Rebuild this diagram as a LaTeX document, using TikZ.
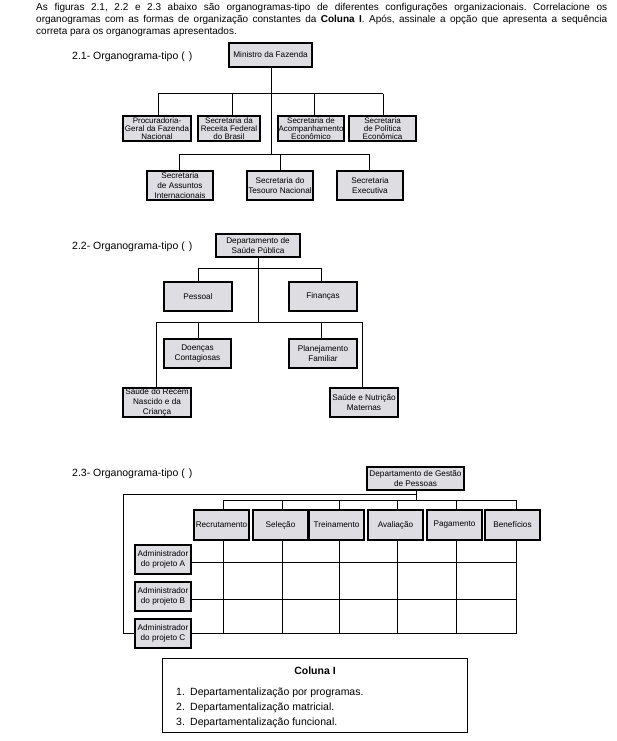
\documentclass[tikz,border=0pt]{standalone}
\usepackage{fontspec}
\setmainfont{Liberation Sans}
\definecolor{boxfill}{RGB}{221,221,226}
\frenchspacing
\begin{document}
\begin{tikzpicture}[x=1pt,y=-1pt,
  box/.style={draw, line width=1.2pt, fill=boxfill, inner sep=0pt, align=center,
    font=\fontsize{8.2}{9.7}\selectfont},
  tight/.style={font=\fontsize{8}{7.8}\selectfont},
  conn/.style={line width=1pt},
  lbl/.style={font=\fontsize{10.5}{12}\selectfont, inner sep=0pt},
  hdr/.style={font=\fontsize{10}{12}\selectfont, inner sep=0pt}]
\useasboundingbox[fill=white] (0,0) rectangle (617,741);

% header
\node[hdr, anchor=north west, text width=571pt, align=justify] (head) at (36,3)
 {As figuras 2.1, 2.2 e 2.3 abaixo são organogramas-tipo de diferentes configurações organizacionais. Correlacione os\linebreak
 organogramas com as formas de organização constantes da \textbf{Coluna I}. Após, assinale a opção que apresenta a sequência\linebreak
 correta para os organogramas apresentados.};

% ---------- 2.1 ----------
\node[lbl, anchor=west] (l1) at (72,57) {2.1- Organograma-tipo (\hspace{4pt})};
\node[box, minimum width=83, minimum height=24] (min) at (270.5,55) {Ministro da Fazenda};
\node[box, tight, minimum width=68, minimum height=25] (p1) at (157,128.5) {Procuradoria-\\Geral da Fazenda\\Nacional};
\node[box, tight, minimum width=62, minimum height=25] (p2) at (229,128.5) {Secretaria da\\Receita Federal\\do Brasil};
\node[box, tight, minimum width=66, minimum height=25] (p3) at (311,128.5) {Secretaria de\\Acompanhamento\\Econômico};
\node[box, tight, minimum width=67, minimum height=25] (p4) at (382.5,128.5) {Secretaria\\de Política\\Econômica};
\node[box, minimum width=66, minimum height=29] (q1) at (180,185.5) {Secretaria\\de Assuntos\\Internacionais};
\node[box, minimum width=66, minimum height=29] (q2) at (280,185.5) {Secretaria do\\Tesouro Nacional};
\node[box, minimum width=66, minimum height=29] (q3) at (370,185.5) {Secretaria\\Executiva};

\coordinate (t1) at (271,154);
\coordinate (h1a) at (158,94);
\coordinate (h1b) at (383,94);
\coordinate (d2) at (232,94);
\coordinate (d3) at (314,94);
\coordinate (h2a) at (179,154);
\coordinate (h2b) at (369,154);
\coordinate (d5) at (280,154);
\draw[conn] (min.south -| t1) -- (t1);
\draw[conn] (h1a) -- (h1b);
\draw[conn] (h1a) -- (h1a |- p1.north);
\draw[conn] (d2) -- (d2 |- p2.north);
\draw[conn] (d3) -- (d3 |- p3.north);
\draw[conn] (h1b) -- (h1b |- p4.north);
\draw[conn] (h2a) -- (h2b);
\draw[conn] (h2a) -- (h2a |- q1.north);
\draw[conn] (d5) -- (d5 |- q2.north);
\draw[conn] (h2b) -- (h2b |- q3.north);

% ---------- 2.2 ----------
\node[lbl, anchor=west] (l2) at (72,247) {2.2- Organograma-tipo (\hspace{4pt})};
\node[box, minimum width=84, minimum height=23] (dsp) at (258,245.5) {Departamento de\\Saúde Pública};
\node[box, minimum width=68, minimum height=29] (pes) at (198,296.5) {Pessoal};
\node[box, minimum width=68, minimum height=29] (fin) at (323,296.5) {Finanças};
\node[box, minimum width=67, minimum height=29] (doe) at (197.5,353.5) {Doenças\\Contagiosas};
\node[box, minimum width=68, minimum height=29] (pla) at (323,353.5) {Planejamento\\Familiar};
\node[box, minimum width=68, minimum height=29] (rec) at (157,402.5) {Saúde do Recém\\Nascido e da\\Criança};
\node[box, minimum width=68, minimum height=29] (mat) at (364,402.5) {Saúde e Nutrição\\Maternas};

\coordinate (dv) at (258,322);
\coordinate (e1) at (198,268);
\coordinate (e2) at (321,268);
\coordinate (g1) at (156,322);
\coordinate (g2) at (198,322);
\coordinate (g3) at (321,322);
\coordinate (g4) at (362,322);
\draw[conn] (dsp.south) -- (dv);
\draw[conn] (e1) -- (e2);
\draw[conn] (e1) -- (e1 |- pes.north);
\draw[conn] (e2) -- (e2 |- fin.north);
\draw[conn] (g1) -- (g4);
\draw[conn] (g1) -- (g1 |- rec.north);
\draw[conn] (g2) -- (g2 |- doe.north);
\draw[conn] (g3) -- (g3 |- pla.north);
\draw[conn] (g4) -- (g4 |- mat.north);

% ---------- 2.3 ----------
\node[lbl, anchor=west] (l3) at (72,474) {2.3- Organograma-tipo (\hspace{4pt})};
\node[box, minimum width=97, minimum height=23] (dgp) at (415.5,478.5) {Departamento de Gestão\\de Pessoas};
\node[box, minimum width=55, minimum height=30] (f1) at (221.5,525) {Recrutamento};
\node[box, minimum width=55, minimum height=30] (f2) at (280.5,525) {Seleção};
\node[box, minimum width=55, minimum height=30] (f3) at (336.5,525) {Treinamento};
\node[box, minimum width=55, minimum height=30] (f4) at (395.5,525) {Avaliação};
\node[box, minimum width=55, minimum height=30] (f5) at (454.5,525) {Pagamento};
\node[box, minimum width=55, minimum height=30] (f6) at (512.5,525) {Benefícios};
\node[box, minimum width=56, minimum height=29] (aA) at (163,559.5) {Administrador\\do projeto A};
\node[box, minimum width=56, minimum height=29] (aB) at (163,596.5) {Administrador\\do projeto B};
\node[box, minimum width=56, minimum height=29] (aC) at (163,633.5) {Administrador\\do projeto C};

\coordinate (v0) at (416,494);
\coordinate (v1) at (416,500);
\coordinate (k1) at (123,494);
\coordinate (k2) at (123,633.5);
\coordinate (c1) at (223,500);
\coordinate (c2) at (282,500);
\coordinate (c3) at (339,500);
\coordinate (c4) at (397,500);
\coordinate (c5) at (456,500);
\coordinate (c6) at (516,500);
\draw[conn] (dgp.south -| v1) -- (v1);
\draw[conn] (v0) -- (k1) -- (k2) -- (aC.west);
\draw[conn] (c1) -- (c6);
\foreach \c/\f in {c1/f1,c2/f2,c3/f3,c4/f4,c5/f5,c6/f6}{
  \draw[conn] (\c) -- (\c |- \f.north);
  \draw[conn] (\c |- \f.south) -- (\c |- aC.east);
}
\draw[conn] ([yshift=-2.5pt]aA.east) -- ([yshift=-2.5pt]aA.east -| c6);
\draw[conn] ([yshift=-2.5pt]aB.east) -- ([yshift=-2.5pt]aB.east -| c6);
\draw[conn] (aC.east) -- (aC.east -| c6);

% ---------- Coluna I ----------
\node[draw, line width=1pt, minimum width=305, minimum height=74, inner sep=0pt] (col) at (314.5,695) {};
\node[lbl, font=\fontsize{10.5}{12}\selectfont\bfseries] (ct) at (315,671) {Coluna I};
\node[lbl, anchor=base west] (n1) at (176,695.5) {1.};
\node[lbl, anchor=base west] (i1) at (190,695.5) {Departamentalização por programas.};
\node[lbl, anchor=base west] (n2) at (176,710.5) {2.};
\node[lbl, anchor=base west] (i2) at (190,710.5) {Departamentalização matricial.};
\node[lbl, anchor=base west] (n3) at (176,725.5) {3.};
\node[lbl, anchor=base west] (i3) at (190,725.5) {Departamentalização funcional.};
\end{tikzpicture}
\end{document}
